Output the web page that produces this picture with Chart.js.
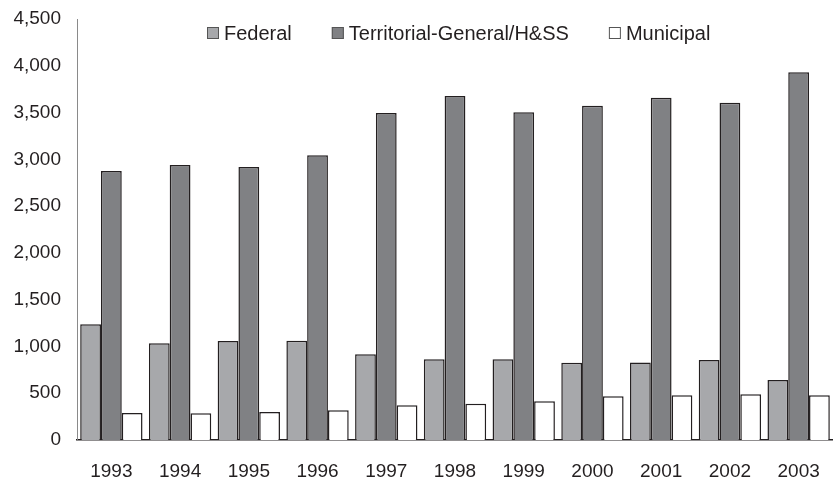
<!DOCTYPE html>
<html>
<head>
<meta charset="utf-8">
<script src="https://cdn.jsdelivr.net/npm/chart.js@4.4.1/dist/chart.umd.min.js"></script>
<style>
    html, body { margin: 0; padding: 0; background: #ffffff; }
    #wrap { width: 833px; height: 482px; }
</style>
</head>
<body>
<div id="wrap"><canvas id="chart" width="833" height="482"></canvas></div>
<script>
// Data
var years = ['1993', '1994', '1995', '1996', '1997', '1998', '1999', '2000', '2001', '2002', '2003'];
var federal = [1237, 1033, 1058, 1062, 916, 862, 862, 826, 829, 855, 641];
var territorial = [2875, 2939, 2918, 3043, 3495, 3677, 3502, 3573, 3659, 3606, 3930];
var municipal = [289, 286, 299, 317, 371, 388, 413, 467, 478, 488, 478];
var seriesNames = ['Federal', 'Territorial-General/H&SS', 'Municipal'];
var yTicks = [0, 500, 1000, 1500, 2000, 2500, 3000, 3500, 4000, 4500];

var fontFamily = "'Liberation Sans', Arial, Helvetica, sans-serif";
var textColor = '#231f20';

/**
 * Legend drawn inside the plot area, like the original
 */
var insideLegend = {
    id: 'insideLegend',
    afterDraw: function (chart) {
        var ctx = chart.ctx;
        var x = 207;
        var y = 33;
        ctx.save();
        ctx.font = '20px ' + fontFamily;
        ctx.textBaseline = 'middle';
        chart.data.datasets.forEach(function (ds) {
            ctx.fillStyle = ds.backgroundColor;
            ctx.fillRect(x, y - 6, 12, 12);
            ctx.lineWidth = 1;
            ctx.strokeStyle = '#555555';
            ctx.strokeRect(x + 0.5, y - 5.5, 11, 11);
            ctx.fillStyle = textColor;
            ctx.fillText(ds.label, x + 17, y + 1);
            x += 17 + ctx.measureText(ds.label).width + 40;
        });
        ctx.restore();
    }
};

var chart = new Chart(document.getElementById('chart').getContext('2d'), {
    type: 'bar',
    data: {
        labels: years,
        datasets: [{
            label: seriesNames[0],
            data: federal,
            backgroundColor: '#a7a8ab',
            borderColor: '#231f20',
            borderWidth: 1.5
        }, {
            label: seriesNames[1],
            data: territorial,
            backgroundColor: '#808184',
            borderColor: '#231f20',
            borderWidth: 1.5
        }, {
            label: seriesNames[2],
            data: municipal,
            backgroundColor: '#ffffff',
            borderColor: '#231f20',
            borderWidth: 1.5
        }]
    },
    options: {
        responsive: false,
        devicePixelRatio: 1,
        animation: false,
        layout: {
            padding: { top: 19, left: 0, right: 0, bottom: 0 }
        },
        datasets: {
            bar: {
                categoryPercentage: 0.907,
                barPercentage: 1.0
            }
        },
        plugins: {
            legend: { display: false },
            tooltip: { enabled: false }
        },
        scales: {
            x: {
                grid: { display: false, drawTicks: false },
                border: { display: true, color: '#231f20', width: 1.5 },
                ticks: {
                    color: textColor,
                    font: { size: 19, family: fontFamily },
                    padding: 20,
                    maxRotation: 0,
                    autoSkip: false
                },
                afterFit: function (scale) {
                    scale.height = 42;
                    scale.paddingLeft = 0;
                    scale.paddingRight = 0;
                }
            },
            y: {
                min: 0,
                max: 4500,
                grid: { display: false, drawTicks: false },
                border: { display: true, color: '#8a8a8a', width: 1 },
                afterBuildTicks: function (scale) {
                    scale.ticks = yTicks.map(function (v) { return { value: v }; });
                },
                ticks: {
                    color: textColor,
                    font: { size: 19, family: fontFamily },
                    padding: 16,
                    callback: function (value) {
                        return Number(value).toLocaleString('en-US');
                    }
                },
                afterFit: function (scale) {
                    scale.width = 77;
                    scale.paddingTop = 0;
                    scale.paddingBottom = 0;
                }
            }
        }
    },
    plugins: [insideLegend]
});
</script>
</body>
</html>
